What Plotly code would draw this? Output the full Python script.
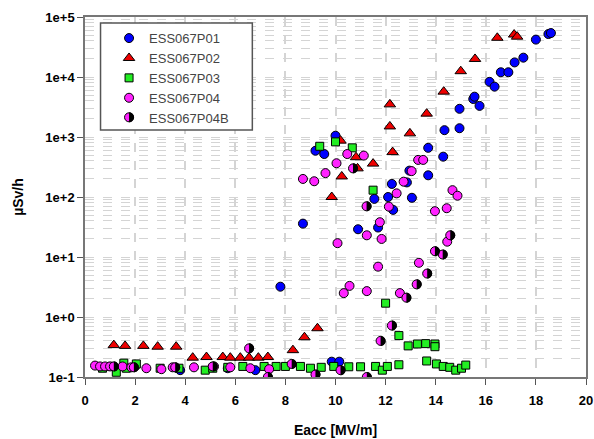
import plotly.graph_objects as go

# ---------------- data ----------------
p01_x = [2.0, 3.8, 5.7, 6.8, 7.8, 8.7, 9.2, 9.55, 9.85, 10.0, 10.15, 10.9, 11.55, 11.7, 12.1, 12.25,
         12.3, 12.85, 12.95, 13.05, 13.7, 13.7, 14.3, 14.35, 14.95, 14.95, 15.5, 15.55, 15.75, 16.15,
         16.35, 16.6, 16.9, 17.15, 17.5, 18.0, 18.5, 18.6]
p01_y = [0.15, 0.13, 0.14, 0.13, 3.2, 36, 590, 520, 0.18, 1050, 0.18, 29, 93, 31, 100, 165,
         61, 175, 275, 97, 660, 230, 470, 1300, 1400, 2950, 4300, 4700, 3300, 8300,
         6900, 12000, 12000, 17500, 21000, 42000, 52000, 54000]

p02_x = [1.15, 1.6, 2.33, 2.9, 3.64, 4.3, 4.85, 5.5, 5.8, 6.2, 6.55, 6.92, 7.3, 8.3, 8.76, 9.28,
         9.85, 10.2, 10.25, 10.82, 10.88, 11.5, 12.17, 12.17, 12.28, 12.97, 13.64, 14.32, 15.0,
         15.57, 16.46, 17.13, 17.25]
p02_y = [0.34, 0.33, 0.33, 0.32, 0.32, 0.21, 0.215, 0.215, 0.21, 0.21, 0.21, 0.21, 0.215, 0.28, 0.46, 0.65,
         100, 870, 220, 460, 300, 360, 3500, 1500, 560, 1150, 2450, 5700, 12500,
         20000, 45000, 51000, 47000]

p03_x = [0.7, 1.07, 1.25, 1.55, 1.65, 2.05, 3.0, 3.75, 4.8, 5.1, 5.7, 6.3, 7.15, 7.63, 8.0, 8.6,
         9.0, 9.37, 9.43, 9.93, 10.0, 10.53, 10.67, 11.0, 11.5, 11.6, 11.87, 12.0, 12.07, 12.53,
         12.53, 12.9, 13.27, 13.6, 13.64, 13.97, 13.97, 14.03, 14.3, 14.56, 14.8, 15.03, 15.2]
p03_y = [0.14, 0.15, 0.12, 0.17, 0.14, 0.165, 0.14, 0.14, 0.13, 0.14, 0.145, 0.15, 0.15, 0.15, 0.15, 0.15,
         0.14, 700, 0.145, 0.15, 830, 0.148, 660, 0.148, 130, 0.15, 0.13, 1.7, 0.15, 0.49,
         0.16, 0.33, 0.355, 0.36, 0.185, 0.355, 0.32, 0.165, 0.15, 0.145, 0.13, 0.14, 0.158]

p04_x = [0.4, 0.6, 0.8, 1.0, 1.5, 1.85, 2.45, 3.05, 3.5, 4.35, 5.15, 5.8, 6.6, 7.35,
         8.7, 9.15, 9.6, 10.04, 10.08, 10.33, 10.47, 10.56, 11.13, 11.25, 11.25, 11.7, 11.77,
         11.84, 12.13, 12.44, 12.57, 12.72, 13.04, 13.3, 13.33, 13.5, 13.97, 14.44, 14.46,
         14.67, 14.87]
p04_y = [0.155, 0.15, 0.15, 0.15, 0.15, 0.145, 0.14, 0.135, 0.145, 0.145, 0.15, 0.145, 0.14, 0.135,
         200, 183, 250, 365, 17, 2.5, 520, 3.3, 490, 23, 2.7, 6.9, 38,
         20, 69, 115, 2.5, 180, 270, 415, 8, 415, 58, 65, 18,
         130, 105]

p04b_x = [1.15, 1.95, 3.6, 5.1, 6.55, 7.3, 8.25, 9.2, 10.2, 10.7, 11.24, 11.25, 11.8, 12.25,
          12.83, 13.24, 13.66, 13.97, 14.28, 14.58]
p04b_y = [0.15, 0.145, 0.145, 0.15, 0.3, 0.1, 0.165, 0.11, 0.13, 300, 70, 0.1, 0.4, 0.72,
          2.1, 3.5, 5.3, 12.5, 11, 23]

series_names = ["ESS067P01", "ESS067P02", "ESS067P03", "ESS067P04", "ESS067P04B"]

y_tickvals = [0.1, 1, 10, 100, 1000, 10000, 100000]
y_ticktext = ["1e-1", "1e+0", "1e+1", "1e+2", "1e+3", "1e+4", "1e+5"]
y_minor = [m * 10 ** k for k in range(-1, 5) for m in range(2, 10)]
x_tickvals = list(range(0, 21, 2))

# ---------------- figure ----------------
FONT = "Liberation Sans, Arial, sans-serif"
MAGENTA = "#ff22ff"
line = dict(color="black", width=1)

fig = go.Figure()
fig.add_trace(go.Scatter(x=p01_x, y=p01_y, mode="markers", name=series_names[0],
                         marker=dict(symbol="circle", size=9, color="#0000ff", line=line)))
fig.add_trace(go.Scatter(x=p02_x, y=p02_y, mode="markers", name=series_names[1],
                         marker=dict(symbol="triangle-up", size=10, color="#ee0000", line=line)))
fig.add_trace(go.Scatter(x=p03_x, y=p03_y, mode="markers", name=series_names[2],
                         marker=dict(symbol="square", size=8, color="#22ee22", line=line)))
fig.add_trace(go.Scatter(x=p04_x, y=p04_y, mode="markers", name=series_names[3],
                         marker=dict(symbol="circle", size=9, color=MAGENTA, line=line)))
fig.add_trace(go.Scatter(x=p04b_x, y=p04b_y, mode="markers", name=series_names[4],
                         showlegend=False,
                         marker=dict(symbol="circle", size=9, color=MAGENTA, line=line)))
# legend entry for ESS067P04B (its half-black symbol is drawn underneath with shapes)
fig.add_trace(go.Scatter(x=[None], y=[None], mode="markers", name=series_names[4],
                         marker=dict(symbol="circle", size=9, color="rgba(0,0,0,0)",
                                     line=dict(width=0))))

# black right half of each ESS067P04B marker (pixel-sized shape anchored on the data point)
R = 5.0
K = 0.5523 * R
HALF_PATH = f"M0,{-R} C{K},{-R} {R},{-K} {R},0 C{R},{K} {K},{R} 0,{R} Z"
for xv, yv in zip(p04b_x, p04b_y):
    fig.add_shape(type="path", xref="x", yref="y", xsizemode="pixel", ysizemode="pixel",
                  xanchor=xv, yanchor=yv, path=HALF_PATH,
                  fillcolor="black", line=dict(width=0), layer="above")

grid_col = "#d4d4d4"
fig.update_xaxes(range=[0, 20], tickvals=x_tickvals, ticks="outside", ticklen=6,
                 tickcolor="#555", showline=True, linecolor="#777", linewidth=1.5, mirror=True,
                 showgrid=True, gridcolor=grid_col, gridwidth=1.5, griddash="dash",
                 zeroline=False, ticklabelstandoff=5, automargin=False,
                 tickfont=dict(family=FONT, size=13, color="black", weight="bold"),
                 title=dict(text="Eacc [MV/m]", standoff=18,
                            font=dict(family=FONT, size=14, color="black", weight="bold")))
fig.update_yaxes(type="log", range=[-1, 5], tickvals=y_tickvals, ticktext=y_ticktext,
                 ticks="outside", ticklen=6, tickcolor="#555",
                 showline=True, linecolor="#777", linewidth=1.5, mirror=True,
                 showgrid=True, gridcolor=grid_col, gridwidth=1, griddash="dash",
                 minor=dict(tickvals=y_minor, showgrid=True, gridcolor=grid_col,
                            gridwidth=1, griddash="dash", ticks=""),
                 zeroline=False, automargin=False,
                 tickfont=dict(family=FONT, size=13, color="black", weight="bold"),
                 title=dict(text="µSv/h", standoff=18,
                            font=dict(family=FONT, size=14, color="black", weight="bold")))

# legend frame
fig.add_shape(type="rect", xref="paper", yref="paper", x0=0.031, x1=0.334, y0=0.686, y1=0.983,
              line=dict(color="#555", width=1.5), fillcolor="white", layer="above")

LEG_X, LEG_Y = 0.048, 0.983
fig.update_layout(
    width=594, height=439,
    margin=dict(l=85, r=8, t=17, b=62),
    paper_bgcolor="white", plot_bgcolor="white",
    font=dict(family=FONT),
    showlegend=True,
    legend=dict(x=LEG_X, y=LEG_Y, xanchor="left", yanchor="top",
                bgcolor="rgba(0,0,0,0)", borderwidth=0,
                font=dict(family=FONT, size=13, color="#444"),
                tracegroupgap=0),
)
# half-black symbol for the ESS067P04B legend entry
sym_x = LEG_X + 20 / 501
sym_y = LEG_Y - (15 + 4 * 19.8) / 360
fig.add_shape(type="circle", xref="paper", yref="paper", xsizemode="pixel", ysizemode="pixel",
              xanchor=sym_x, yanchor=sym_y, x0=-4.5, x1=4.5, y0=-4.5, y1=4.5,
              fillcolor=MAGENTA, line=dict(color="black", width=1), layer="above")
fig.add_shape(type="path", xref="paper", yref="paper", xsizemode="pixel", ysizemode="pixel",
              xanchor=sym_x, yanchor=sym_y, path=HALF_PATH,
              fillcolor="black", line=dict(width=0), layer="above")

fig.write_html("out.html", config={"displayModeBar": False},
               post_script="document.body.style.margin='0';document.body.style.overflow='hidden';")
